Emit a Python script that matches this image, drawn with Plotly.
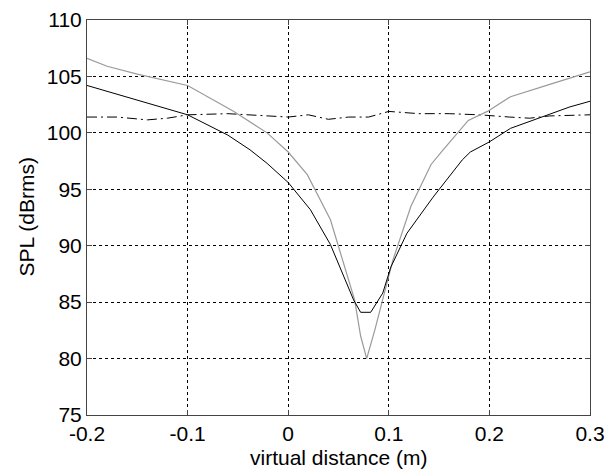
import plotly.graph_objects as go

gray_x = [-0.2, -0.18, -0.15, -0.1, -0.054, -0.021, 0.0, 0.019, 0.042, 0.066, 0.072, 0.078, 0.086, 0.093, 0.104, 0.122, 0.142, 0.154, 0.179, 0.198, 0.221, 0.26, 0.3]
gray_y = [106.6, 105.9, 105.2, 104.2, 101.9, 100.0, 98.3, 96.3, 92.3, 85.2, 82.0, 80.0, 82.5, 84.9, 88.7, 93.5, 97.2, 98.5, 101.1, 101.9, 103.2, 104.3, 105.4]

black_x = [-0.2, -0.1, -0.06, -0.038, -0.021, 0.0, 0.022, 0.042, 0.065, 0.072, 0.082, 0.094, 0.102, 0.118, 0.144, 0.162, 0.173, 0.181, 0.2, 0.221, 0.25, 0.28, 0.3]
black_y = [104.2, 101.6, 99.8, 98.5, 97.3, 95.6, 93.2, 90.1, 85.2, 84.1, 84.1, 85.8, 88.1, 91.1, 94.3, 96.4, 97.6, 98.3, 99.2, 100.4, 101.3, 102.3, 102.8]

dd_x = [-0.2, -0.17, -0.14, -0.12, -0.1, -0.06, -0.02, 0.0, 0.02, 0.04, 0.06, 0.08, 0.1, 0.13, 0.16, 0.19, 0.22, 0.24, 0.26, 0.3]
dd_y = [101.4, 101.4, 101.15, 101.3, 101.6, 101.7, 101.5, 101.4, 101.6, 101.2, 101.4, 101.4, 101.9, 101.7, 101.7, 101.6, 101.4, 101.3, 101.5, 101.6]

x_ticks = [-0.2, -0.1, 0, 0.1, 0.2, 0.3]
x_labels = ["-0.2", "-0.1", "0", "0.1", "0.2", "0.3"]
y_ticks = [75, 80, 85, 90, 95, 100, 105, 110]

FONT = "Liberation Sans, Arial"

fig = go.Figure()
fig.add_trace(go.Scatter(x=dd_x, y=dd_y, mode="lines",
                         line=dict(color="black", width=1, dash="10px,4px,2px,4px")))
fig.add_trace(go.Scatter(x=gray_x, y=gray_y, mode="lines",
                         line=dict(color="#9a9a9a", width=1.2)))
fig.add_trace(go.Scatter(x=black_x, y=black_y, mode="lines",
                         line=dict(color="black", width=1)))

axis_common = dict(
    showline=True, linecolor="#444444", linewidth=1, mirror="ticks",
    ticks="inside", ticklen=5, tickcolor="#444444",
    showgrid=True, gridcolor="black", gridwidth=1, griddash="3px,3px",
    zeroline=False, automargin=False,
    tickfont=dict(family=FONT, size=21, color="black"),
)

fig.update_layout(
    width=607, height=469,
    margin=dict(l=87, r=17, t=20, b=54),
    paper_bgcolor="white", plot_bgcolor="white",
    showlegend=False,
    font=dict(family=FONT, size=21, color="black"),
    xaxis=dict(range=[-0.2, 0.3], tickvals=x_ticks, ticktext=x_labels, **axis_common),
    yaxis=dict(range=[75, 110], tickvals=y_ticks, **axis_common),
)

fig.add_annotation(text="virtual distance (m)", xref="paper", yref="paper",
                   x=0.5, y=0, xanchor="center", yanchor="middle", yshift=-42,
                   showarrow=False, font=dict(family=FONT, size=21, color="black"))
fig.add_annotation(text="SPL (dBrms)", xref="paper", yref="paper",
                   x=0, y=0.5, xanchor="center", yanchor="middle", xshift=-61,
                   textangle=-90, showarrow=False,
                   font=dict(family=FONT, size=21, color="black"))

fig.write_html("out.html", config={"displayModeBar": False},
               post_script="document.body.style.margin='0';document.body.style.overflow='hidden';")
